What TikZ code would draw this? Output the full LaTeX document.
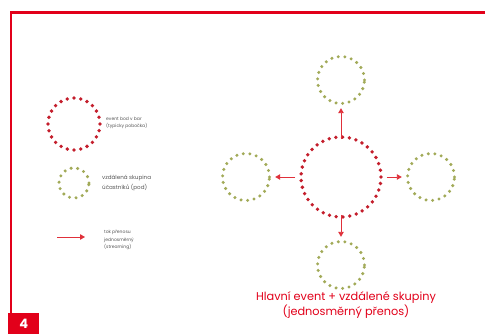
\documentclass[tikz,border=0pt]{standalone}
\usepackage{fontspec}
\setmainfont{Poppins}
\usetikzlibrary{arrows.meta}
\definecolor{frame}{HTML}{E2001A}
\definecolor{dotred}{HTML}{C41E2C}
\definecolor{dotgreen}{HTML}{A2AA58}
\definecolor{arr}{HTML}{E0303A}
\definecolor{txt}{HTML}{555555}
\begin{document}
\begin{tikzpicture}[x=1pt,y=-1pt,
  redring/.style={circle,draw=dotred,line width=3.8pt,dash pattern=on 0pt off 6.8pt,line cap=round,inner sep=0pt},
  greenring/.style={circle,draw=dotgreen,line width=3.4pt,dash pattern=on 0pt off 6.6pt,line cap=round,inner sep=0pt},
  flow/.style={color=arr,line width=0.9pt,-{Triangle[length=5pt,width=5.5pt]}},
  legtxt/.style={anchor=west,align=left,text=txt,inner sep=0pt},
  captxt/.style={align=center,text=frame,font=\fontsize{11.3}{12.5}\selectfont}]
\useasboundingbox (0,0) rectangle (485,334);
\fill[white] (0,0) rectangle (485,334);
% frame
\draw[frame,line width=2.2pt] (11,313) -- (11,12.5) -- (490,12.5);
\node[fill=frame,minimum width=31pt,minimum height=21pt,inner sep=0pt,anchor=north west,text=white,font=\bfseries\fontsize{13}{13}\selectfont] (num) at (8,313) {4};
% legend
\node[redring,minimum size=52pt] (lred) at (74,124) {};
\node[legtxt,font=\fontsize{4.5}{6.5}\selectfont] (lredt) at (106,123) {event bod v bar\\(typicky pobočka)};
\node[greenring,minimum size=30pt] (lgreen) at (74,183) {};
\node[legtxt,font=\fontsize{5.6}{9.5}\selectfont] (lgreent) at (102,183) {vzdálená skupina\\účastníků (pod)};
\coordinate (la) at (57,237);
\coordinate (lb) at (85,237);
\draw[flow] (la) -- (lb);
\node[legtxt,font=\fontsize{4.5}{7.5}\selectfont] (larrt) at (104,240) {tok přenosu\\jednosměrný\\(streaming)};
% main diagram
\node[redring,minimum size=80pt] (main) at (341,177) {};
\node[greenring,minimum size=47pt] (top) at (341,80) {};
\node[greenring,minimum size=47pt] (left) at (246,177) {};
\node[greenring,minimum size=47pt] (right) at (431,177) {};
\node[greenring,minimum size=47pt] (bottom) at (341,265) {};
\draw[flow] ([yshift=-4pt]main.north) -- ([yshift=-3pt]top.south);
\draw[flow] ([xshift=-4pt]main.west) -- ([xshift=4pt]left.east);
\draw[flow] ([xshift=4pt]main.east) -- ([xshift=-4pt]right.west);
\draw[flow] ([yshift=4pt]main.south) -- ([yshift=3pt]bottom.north);
\node[captxt] (cap) at (346,305) {Hlavní event + vzdálené skupiny\\(jednosměrný přenos)};
\end{tikzpicture}
\end{document}
